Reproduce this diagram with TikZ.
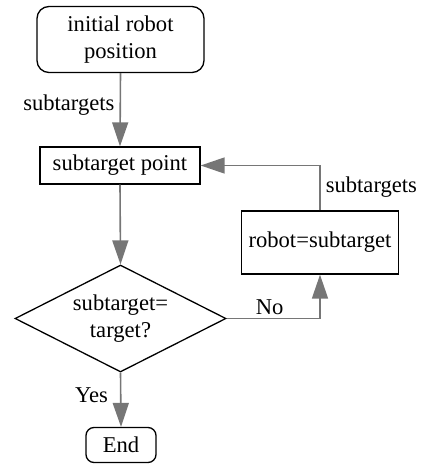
\documentclass[tikz,border=0pt]{standalone}
\usepackage{fontspec}
\setmainfont{Liberation Serif}
\newfontfamily\diafont{Liberation Serif}
\usetikzlibrary{shapes.geometric,arrows.meta}
\definecolor{conn}{RGB}{118,118,118}
\begin{document}
\begin{tikzpicture}[x=1pt,y=-1pt,
  every node/.style={font=\diafont\fontsize{22.6}{27}\selectfont},
  box/.style={draw=black,line width=1.3pt,inner sep=0pt,align=center},
  rbox/.style={box,rounded corners=12pt},
  dia/.style={draw=black,line width=1.3pt,diamond,inner sep=0pt,aspect=2,align=center},
  conn/.style={draw=conn,line width=1.6pt,-{Triangle[length=24pt,width=16pt]}},
  lbl/.style={inner sep=0pt}]
\useasboundingbox (0,0) rectangle (423,466);
\node[rbox,minimum width=167pt,minimum height=66pt] (init) at (120.5,39.5) {initial robot\\position};
\node[box,minimum width=160pt,minimum height=37pt] (sub) at (120,165.5) {subtarget point};
\node[box,minimum width=157pt,minimum height=63pt] (robot) at (320,242.5) {robot=subtarget};
\node[dia,minimum width=211pt,minimum height=107pt] (dec) at (120.5,318.5) {subtarget=\\target?};
\node[rbox,rounded corners=8pt,minimum width=70pt,minimum height=35pt] (end) at (121,445) {End};
\draw[conn] (init.south) -- node[lbl,pos=0.43,anchor=east,xshift=-5pt]{subtargets} (sub.north);
\draw[conn] (sub.south) -- (dec.north);
\draw[conn] (dec.east) -| node[lbl,pos=0.23,anchor=south,yshift=3pt]{No} (robot.south);
\draw[conn] (robot.north) |- node[lbl,pos=0.26,anchor=west,xshift=5pt]{subtargets} (sub.east);
\draw[conn] (dec.south) -- node[lbl,pos=0.41,anchor=east,xshift=-12pt]{Yes} (end.north);
\end{tikzpicture}
\end{document}
